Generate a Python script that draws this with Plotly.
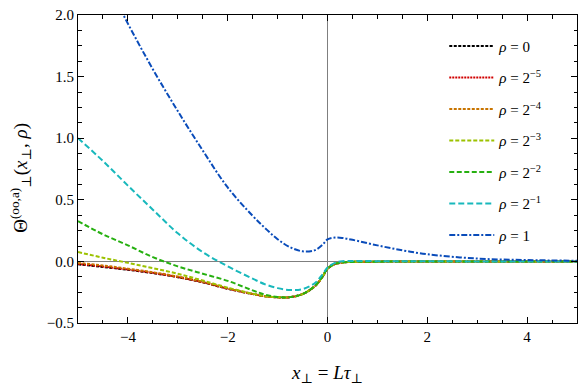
import plotly.graph_objects as go

x = [-5, -4.5, -4, -3.5, -3, -2.5, -2, -1.5, -1.25, -1, -0.75, -0.5, -0.25, -0.1,
     0, 0.15, 0.3, 0.5, 1, 1.5, 2, 3, 4, 5]

rho_labels = ["<i>ρ</i> = 0", "<i>ρ</i> = 2<sup>−5</sup>", "<i>ρ</i> = 2<sup>−4</sup>",
              "<i>ρ</i> = 2<sup>−3</sup>", "<i>ρ</i> = 2<sup>−2</sup>",
              "<i>ρ</i> = 2<sup>−1</sup>", "<i>ρ</i> = 1"]

y_rho0 = [-0.024, -0.045, -0.068, -0.095, -0.128, -0.17, -0.222, -0.265, -0.283, -0.292,
          -0.29, -0.265, -0.2, -0.125, -0.06, -0.022, -0.009, -0.004, -0.002, -0.001,
          -0.0005, 0, 0, 0]
y_rho2m5 = [-0.020, -0.042, -0.066, -0.093, -0.127, -0.169, -0.221, -0.265, -0.283, -0.292,
            -0.29, -0.265, -0.2, -0.125, -0.06, -0.022, -0.009, -0.004, -0.002, -0.001,
            -0.0005, 0, 0, 0]
y_rho2m4 = [-0.012, -0.033, -0.059, -0.088, -0.123, -0.166, -0.219, -0.264, -0.283, -0.292,
            -0.29, -0.265, -0.2, -0.124, -0.06, -0.021, -0.009, -0.004, -0.002, -0.001,
            -0.0005, 0, 0, 0]
y_rho2m3 = [0.076, 0.03, -0.012, -0.055, -0.1, -0.155, -0.213, -0.262, -0.282, -0.291,
            -0.29, -0.265, -0.2, -0.124, -0.059, -0.021, -0.008, -0.004, -0.002, -0.001,
            -0.0005, 0, 0, 0]
y_rho2m2 = [0.327, 0.22, 0.13, 0.035, -0.04, -0.1, -0.158, -0.235, -0.27, -0.289,
            -0.29, -0.265, -0.198, -0.122, -0.058, -0.02, -0.008, -0.004, -0.002, -0.001,
            -0.0005, 0, 0, 0]
y_rho2m1 = [1.0, 0.815, 0.615, 0.42, 0.228, 0.075, -0.04, -0.14, -0.186, -0.217,
            -0.232, -0.225, -0.175, -0.105, -0.05, -0.012, 0.002, 0.003, 0.002, 0.001,
            0.001, 0, 0, 0]
y_rho1 = [2.75, 2.33, 1.93, 1.56, 1.22, 0.9, 0.6, 0.37, 0.27, 0.18,
          0.115, 0.082, 0.092, 0.135, 0.178, 0.193, 0.19, 0.175, 0.13, 0.09,
          0.058, 0.023, 0.011, 0.005]

series = [y_rho0, y_rho2m5, y_rho2m4, y_rho2m3, y_rho2m2, y_rho2m1, y_rho1]
colors = ["#000000", "#d00000", "#c87400", "#9cc200", "#26b010", "#18b8bc", "#0a4cba"]
dashes = ["3px,1.5px", "2px,1px", "3px,1.5px", "4px,2px", "5px,2.5px", "6px,3px",
          "6px,2px,2px,2px"]

fig = go.Figure()
for i, (ys, lab, c, d) in enumerate(zip(series, rho_labels, colors, dashes)):
    fig.add_trace(go.Scatter(
        x=x, y=ys, mode="lines", name=lab, legendgroup=str(i),
        line=dict(color=c, width=2, dash=d, shape="spline", smoothing=1.0),
    ))

font_family = "Liberation Serif, DejaVu Serif, serif"
axis_common = dict(
    showline=True, linecolor="black", linewidth=1, mirror="allticks",
    ticks="inside", ticklen=6, tickcolor="black", tickwidth=1,
    showgrid=False, zeroline=True, zerolinecolor="#7f7f7f", zerolinewidth=1.4,
    tickfont=dict(family=font_family, size=15, color="black"),
    automargin=False,
)
fig.update_layout(
    width=581, height=386,
    margin=dict(l=78, r=4, t=15, b=63),
    paper_bgcolor="white", plot_bgcolor="white",
    font=dict(family=font_family, color="black"),
    xaxis=dict(range=[-5, 5], tickvals=[-4, -2, 0, 2, 4],
               ticktext=["−4", "−2", "0", "2", "4"],
               minor=dict(dtick=0.5, ticks="inside", ticklen=3.5, tickcolor="black"),
               title=dict(text="<i>x</i><sub>⊥</sub> = <i>Lτ</i><sub>⊥</sub>",
                          font=dict(size=19), standoff=21),
               **axis_common),
    yaxis=dict(range=[-0.5, 2], tickvals=[-0.5, 0, 0.5, 1, 1.5, 2],
               ticktext=["−0.5", "0.0", "0.5", "1.0", "1.5", "2.0"],
               minor=dict(dtick=0.125, ticks="inside", ticklen=3.5, tickcolor="black"),
               **axis_common),
    annotations=[dict(
        text="Θ<sup>(oo,a)</sup><sub>⊥</sub>(<i>x</i><sub>⊥</sub>, <i>ρ</i>)",
        xref="paper", yref="paper", x=-0.115, y=0.47, xanchor="center", yanchor="middle",
        textangle=-90, showarrow=False, font=dict(size=19, family=font_family),
    )],
    legend=dict(x=0.734, y=0.952, xanchor="left", yanchor="top",
                bgcolor="rgba(0,0,0,0)", borderwidth=0,
                font=dict(family=font_family, size=15),
                traceorder="grouped", tracegroupgap=9, itemwidth=45),
    showlegend=True,
)

fig.write_html("out.html", config={"displayModeBar": False},
               post_script="document.body.style.margin='0';")
